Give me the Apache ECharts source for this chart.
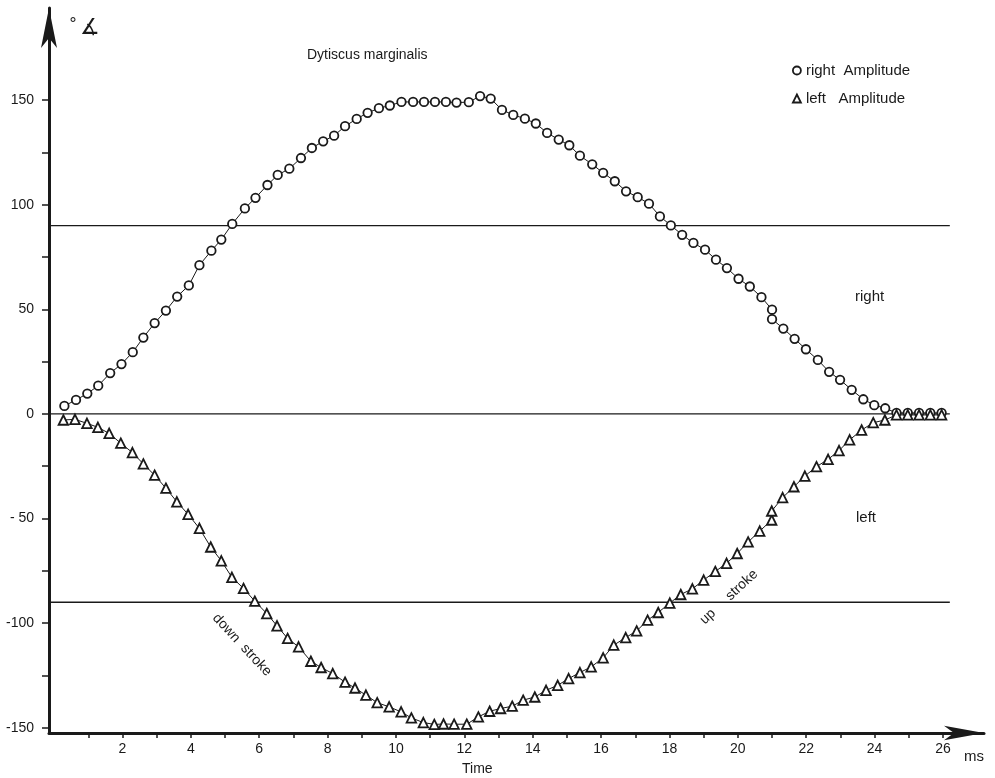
<!DOCTYPE html>
<html>
<head>
<meta charset="utf-8">
<script src="https://cdn.jsdelivr.net/npm/echarts@6/dist/echarts.min.js"></script>
<style>html,body{margin:0;padding:0;background:#fff}#c{width:995px;height:778px}</style>
</head>
<body>
<div id="c"></div>
<script>
const rightT = [0.30,0.64,0.97,1.29,1.64,1.97,2.30,2.61,2.94,3.27,
3.60,3.94,4.25,4.60,4.89,5.21,5.58,5.89,6.24,6.54,
6.88,7.22,7.54,7.87,8.19,8.51,8.85,9.17,9.50,9.82,
10.16,10.50,10.82,11.14,11.46,11.77,12.13,12.46,12.77,13.10,
13.43,13.77,14.09,14.42,14.76,15.07,15.38,15.74,16.06,16.40,
16.73,17.07,17.40,17.72,18.04,18.37,18.70,19.04,19.36,19.68,
20.02,20.35,20.69,21.00,21.00,21.33,21.66,21.99,22.34,22.67,
22.99,23.33,23.67,23.99,24.31,24.64,24.97,25.30,25.63,25.96];
const rightV = [3.8,6.7,9.7,13.5,19.5,23.8,29.5,36.5,43.4,49.4,
56.1,61.4,71.1,78,83.3,90.8,98.2,103.3,109.4,114.2,
117.2,122.3,127.1,130.3,133,137.5,141,143.9,146.1,147.4,
149.1,149.1,149.1,149.1,149.1,148.8,149,151.9,150.7,145.3,
142.9,141.1,138.8,134.3,131.1,128.4,123.4,119.3,115.2,111.2,
106.4,103.6,100.5,94.4,90.1,85.6,81.7,78.5,73.7,69.7,
64.6,60.9,55.8,49.8,45.3,40.8,35.9,30.9,25.8,20.1,
16.3,11.5,7.0,4.2,2.7,0.5,0.5,0.5,0.5,0.5];
const leftT = [0.27,0.61,0.96,1.28,1.61,1.95,2.29,2.61,2.94,3.27,
3.59,3.92,4.25,4.58,4.89,5.20,5.54,5.87,6.22,6.52,
6.83,7.15,7.51,7.81,8.15,8.51,8.80,9.12,9.45,9.80,
10.15,10.45,10.80,11.12,11.39,11.70,12.07,12.41,12.74,13.06,
13.40,13.72,14.06,14.39,14.73,15.05,15.38,15.71,16.06,16.37,
16.72,17.04,17.36,17.67,18.01,18.33,18.67,19.00,19.34,19.67,
19.98,20.30,20.64,20.99,20.99,21.31,21.64,21.96,22.30,22.64,
22.96,23.27,23.62,23.96,24.30,24.64,24.97,25.30,25.63,25.96];
const leftV = [-2.9,-2.6,-4.5,-6.4,-9.3,-14,-18.5,-23.9,-29.3,-35.5,
-42,-48,-54.7,-63.6,-70.2,-78.1,-83.4,-89.5,-95.4,-101.3,
-107.3,-111.3,-118.2,-121.2,-124.1,-128.2,-131,-134.4,-138,-140,
-142.4,-145.3,-147.5,-148.4,-148.2,-148.3,-148.3,-144.8,-142.1,-140.8,
-139.7,-136.8,-135.3,-132.1,-129.7,-126.5,-123.6,-120.9,-116.6,-110.5,
-106.9,-103.7,-98.6,-94.9,-90.4,-86.3,-83.6,-79.4,-75.3,-71.4,
-66.7,-61.2,-56,-50.7,-46.4,-40,-34.8,-29.7,-25.2,-21.7,
-17.5,-12.4,-7.7,-4.2,-2.9,-0.5,-0.5,-0.5,-0.5,-0.5];
const xTickValues = [1,2,3,4,5,6,7,8,9,10,11,12,13,14,15,16,17,18,19,20,21,22,23,24,25,26];
const xLabelValues = [2,4,6,8,10,12,14,16,18,20,22,24,26];
const yTickValues = [-150,-125,-100,-75,-50,-25,0,25,50,75,100,125,150];
const yLabelValues = [-150,-100,-50,0,50,100,150];
const yLabelText = {'-150':'-150','-100':'-100','-50':'- 50','0':'0','50':'50','100':'100','150':'150'};
const refLevels = [90, 0, -90];
const refStart = -0.15, refEnd = 26.2;
const seriesNames = ['right Amplitude', 'left Amplitude'];
const legendText = {'right Amplitude': 'right  Amplitude', 'left Amplitude': 'left   Amplitude'};

const FONT = 'Liberation Sans';
const ink = '#1a1a1a';
const chart = echarts.init(document.getElementById('c'), null, {renderer: 'canvas'});

const refSeries = refLevels.map(v => ({
  type: 'line', silent: true, symbol: 'none', z: 1,
  lineStyle: {color: ink, width: 1.4},
  data: [[refStart, v], [refEnd, v]]
}));

chart.setOption({
  animation: false,
  backgroundColor: '#fff',
  textStyle: {fontFamily: FONT, color: ink},
  grid: {left: 49, right: 11, top: 8, bottom: 45, containLabel: false},
  xAxis: {
    type: 'value', min: -0.15, max: 27.2,
    axisLine: {show: true, onZero: false, symbol: ['none', 'arrow'], symbolSize: [11, 40],
      lineStyle: {color: ink, width: 3}},
    axisTick: {show: true, customValues: xTickValues, length: 5, inside: false,
      lineStyle: {color: ink, width: 1.5}},
    axisLabel: {customValues: xLabelValues, fontSize: 14, color: ink, margin: 9, fontFamily: FONT},
    splitLine: {show: false}
  },
  yAxis: {
    type: 'value', min: -152.5, max: 194,
    axisLine: {show: true, onZero: false, symbol: ['none', 'arrow'], symbolSize: [12, 40],
      lineStyle: {color: ink, width: 3}},
    axisTick: {show: true, customValues: yTickValues, length: 7,
      lineStyle: {color: ink, width: 1.5}},
    axisLabel: {customValues: yLabelValues, fontSize: 14, color: ink, margin: 15, fontFamily: FONT,
      formatter: v => yLabelText[String(v)]},
    splitLine: {show: false}
  },
  legend: {
    data: [{name: seriesNames[0], icon: 'circle'}, {name: seriesNames[1], icon: 'triangle'}],
    formatter: n => legendText[n],
    orient: 'vertical', left: 787, top: 58, itemWidth: 8, itemHeight: 8, itemGap: 13,
    textStyle: {fontSize: 15, color: ink, fontFamily: FONT},
    itemStyle: {color: '#fff', borderColor: ink, borderWidth: 1.8}
  },
  graphic: [
    {type: 'text', left: 307, top: 48, style: {text: 'Dytiscus marginalis', fontSize: 14, fontFamily: FONT, fill: ink}},
    {type: 'text', left: 69, top: 17, style: {text: '°', fontSize: 16, fontFamily: 'DejaVu Sans', fill: ink}},
    {type: 'text', left: 80, top: 17, style: {text: '∡', fontSize: 22, fontFamily: 'DejaVu Sans', fill: ink}},
    {type: 'text', left: 855, top: 289, style: {text: 'right', fontSize: 15, fontFamily: FONT, fill: ink}},
    {type: 'text', left: 856, top: 510, style: {text: 'left', fontSize: 15, fontFamily: FONT, fill: ink}},
    {type: 'text', x: 242, y: 645, rotation: -0.82, style: {text: 'down  stroke', fontSize: 14, fontFamily: FONT, fill: ink, align: 'center', verticalAlign: 'middle'}},
    {type: 'text', x: 729, y: 597, rotation: 0.75, style: {text: 'up     stroke', fontSize: 14, fontFamily: FONT, fill: ink, align: 'center', verticalAlign: 'middle'}},
    {type: 'text', left: 462, top: 762, style: {text: 'Time', fontSize: 14, fontFamily: FONT, fill: ink}},
    {type: 'text', left: 964, top: 749, style: {text: 'ms', fontSize: 15, fontFamily: FONT, fill: ink}}
  ],
  series: refSeries.concat([
    {
      name: seriesNames[0], type: 'line', z: 3,
      symbol: 'circle', symbolSize: 8.5, showAllSymbol: true,
      itemStyle: {color: '#fff', borderColor: ink, borderWidth: 1.8},
      lineStyle: {color: ink, width: 1},
      data: rightT.map((t, i) => [t, rightV[i]])
    },
    {
      name: seriesNames[1], type: 'line', z: 3,
      symbol: 'triangle', symbolSize: 9.5, showAllSymbol: true,
      itemStyle: {color: '#fff', borderColor: ink, borderWidth: 1.8},
      lineStyle: {color: ink, width: 1},
      data: leftT.map((t, i) => [t, leftV[i]])
    }
  ])
});
</script>
</body>
</html>
